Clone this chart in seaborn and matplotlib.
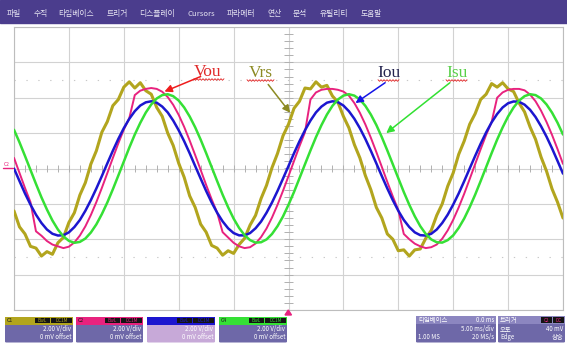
import numpy as np
import pandas as pd
import matplotlib
matplotlib.use("Agg")
import matplotlib.pyplot as plt
import seaborn as sns
from matplotlib.patches import Rectangle, FancyBboxPatch, Polygon
from matplotlib.lines import Line2D

sns.set_style("white")
plt.rcParams["font.family"] = ["Noto Sans CJK KR", "DejaVu Sans"]

# ---- acquisition: 5 ms/div, 2 V/div, trigger at t = 0 ----
t_ms = np.arange(-25.0, 25.01, 0.5)

# C1 : Vrs (source voltage, noisy)
vrs = [-2.40, -3.30, -3.70, -4.40, -4.50, -4.95, -4.70, -4.85, -4.20, -3.90,
       -3.05, -2.50, -1.50, -0.80, 0.25, 1.00, 2.05, 2.65, 3.55, 3.90,
       4.60, 4.90, 4.55, 4.85, 4.40, 4.20, 3.45, 2.95, 2.00, 1.30,
       0.30, -0.50, -1.55, -2.20, -3.15, -3.60, -4.35, -4.50, -4.90, -4.65,
       -4.80, -4.30, -3.95, -3.20, -2.65, -1.70, -0.95, 0.05, 0.85, 1.85,
       2.50, 3.40, 3.80, 4.55, 4.50, 4.90, 4.60, 4.70, 4.10, 3.75,
       2.95, 2.30, 1.35, 0.60, -0.40, -1.20, -2.20, -2.80, -3.70, -4.00,
       -4.65, -4.60, -4.95, -4.60, -4.55, -3.95, -3.50, -2.65, -2.00, -1.00,
       -0.25, 0.80, 1.55, 2.50, 3.10, 3.90, 4.20, 4.80, 4.60, 4.85,
       4.50, 4.35, 3.70, 3.20, 2.35, 1.65, 0.65, -0.15, -1.15, -1.90,
       -2.80]

# C2 : Vou (inverter output voltage)
vou = [0.60, -0.25, -1.10, -1.90, -3.55, -3.80, -4.10, -4.30, -4.40, -4.50,
       -4.42, -4.18, -3.79, -3.27, -2.63, -1.90, -1.10, -0.26, 0.59, 1.42,
       2.20, 2.85, 4.15, 4.40, 4.50, 4.55, 4.50, 4.34, 4.04, 3.60,
       3.03, 2.35, 1.58, 0.76, -0.08, -0.93, -1.74, -2.49, -3.60, -3.90,
       -4.20, -4.40, -4.50, -4.45, -4.24, -3.88, -3.39, -2.77, -2.05, -1.26,
       -0.43, 0.42, 1.26, 2.05, 3.90, 4.30, 4.45, 4.50, 4.50, 4.45,
       4.35, 4.12, 3.70, 3.15, 2.49, 1.74, 0.93, 0.09, -0.76, -1.58,
       -2.35, -3.70, -4.00, -4.25, -4.40, -4.50, -4.45, -4.30, -3.97, -3.50,
       -2.90, -2.20, -1.43, -0.60, 0.25, 1.09, 1.90, 2.63, 4.00, 4.30,
       4.45, 4.50, 4.50, 4.42, 4.18, 3.80, 3.27, 2.63, 1.90, 1.10,
       0.26]

# C3 : Iou (output current)
iou = [0.00, -0.71, -1.41, -2.04, -2.61, -3.08, -3.45, -3.69, -3.79, -3.77,
       -3.61, -3.31, -2.91, -2.39, -1.79, -1.13, -0.43, 0.29, 1.00, 1.67,
       2.28, 2.81, 3.24, 3.56, 3.74, 3.80, 3.72, 3.50, 3.17, 2.71,
       2.16, 1.54, 0.86, 0.14, -0.57, -1.27, -1.92, -2.50, -2.99, -3.38,
       -3.65, -3.78, -3.78, -3.65, -3.38, -3.00, -2.50, -1.92, -1.27, -0.57,
       0.14, 0.86, 1.54, 2.16, 2.71, 3.17, 3.50, 3.72, 3.80, 3.75,
       3.56, 3.24, 2.81, 2.28, 1.67, 1.00, 0.29, -0.43, -1.13, -1.79,
       -2.39, -2.91, -3.31, -3.61, -3.77, -3.79, -3.69, -3.45, -3.08, -2.61,
       -2.04, -1.41, -0.72, 0.00, 0.71, 1.40, 2.04, 2.61, 3.08, 3.45,
       3.69, 3.79, 3.77, 3.61, 3.32, 2.91, 2.39, 1.80, 1.14, 0.43,
       -0.29]

# C4 : Isu (source current)
isu = [2.19, 1.48, 0.71, -0.08, -0.87, -1.63, -2.32, -2.94, -3.45, -3.84,
       -4.09, -4.20, -4.15, -3.96, -3.62, -3.16, -2.58, -1.92, -1.18, -0.40,
       0.39, 1.18, 1.92, 2.58, 3.16, 3.62, 3.96, 4.15, 4.20, 4.09,
       3.84, 3.45, 2.94, 2.33, 1.63, 0.87, 0.08, -0.71, -1.48, -2.19,
       -2.83, -3.36, -3.77, -4.05, -4.19, -4.17, -4.01, -3.70, -3.26, -2.71,
       -2.05, -1.33, -0.55, 0.24, 1.02, 1.77, 2.45, 3.05, 3.54, 3.90,
       4.12, 4.20, 4.12, 3.90, 3.54, 3.05, 2.46, 1.77, 1.02, 0.24,
       -0.55, -1.33, -2.05, -2.70, -3.26, -3.70, -4.01, -4.17, -4.19, -4.05,
       -3.78, -3.36, -2.83, -2.19, -1.48, -0.71, 0.08, 0.87, 1.63, 2.32,
       2.94, 3.45, 3.84, 4.09, 4.20, 4.15, 3.96, 3.62, 3.16, 2.59,
       1.92]

channels = ["C1", "C2", "C3", "C4"]
ch_colors = {"C1": "#b2a51e", "C2": "#e8227e", "C3": "#1c16cf", "C4": "#35e035"}
ch_widths = {"C1": 2.2, "C2": 1.4, "C3": 1.8, "C4": 1.8}

df = pd.DataFrame({
    "t": np.tile(t_ms, 4),
    "v": np.concatenate([vrs, vou, iou, isu]),
    "ch": np.repeat(channels, len(t_ms)),
})

W, H = 567, 346
fig = plt.figure(figsize=(W / 100, H / 100), dpi=100)
fig.patch.set_facecolor("white")


def fx(x):
    return x / W


def fy(y):
    return 1 - y / H


# ---- screen graticule ----
ax = fig.add_axes([fx(14), fy(310), (563 - 14) / W, (310 - 27) / H])
ax.set_facecolor("white")
ax.set_xlim(-25, 25)
ax.set_ylim(-8, 8)
ax.set_xticks(np.arange(-25, 26, 5))
ax.set_yticks(np.arange(-8, 9, 2))
ax.grid(True, color="#d2d2d2", lw=0.8)
ax.tick_params(length=0, labelbottom=False, labelleft=False)
for s in ax.spines.values():
    s.set_color("#bdbdbd")
    s.set_linewidth(0.8)

# dotted reference levels
for lv in (5.0, -5.0):
    ax.axhline(lv, color="#c8c8c8", lw=0.8, ls=(0, (1.2, 9.5)), zorder=1)

# minor ticks on the centre cross
ax.vlines(np.arange(-25, 25.1, 1.0), -0.18, 0.18, color="#b0b0b0", lw=0.7, zorder=1)
ax.hlines(np.arange(-8, 8.1, 0.4), -0.45, 0.45, color="#b0b0b0", lw=0.7, zorder=1)

# ---- waveforms ----
for ch in channels:
    sns.lineplot(data=df[df["ch"] == ch], x="t", y="v", color=ch_colors[ch],
                 lw=ch_widths[ch], estimator=None, sort=False, legend=False,
                 ax=ax, zorder=3)
ax.set_xlabel("")
ax.set_ylabel("")

# ---- trace annotations ----
serif = ["Liberation Serif", "DejaVu Serif"]
notes = [
    # label, text colour, arrow colour, text pos, arrow tail, arrow head
    ("Vou", "#e02828", "#ee1c1c", (-7.35, 5.45), (-8.0, 5.2), (-11.3, 4.35)),
    ("Vrs", "#8c8a22", "#8c8a22", (-2.55, 5.40), (-1.85, 4.75), (0.15, 3.15)),
    ("Iou", "#23234f", "#1414e6", (9.10, 5.40), (8.80, 4.85), (6.10, 3.70)),
    ("Isu", "#58d048", "#32e032", (15.35, 5.40), (14.70, 4.85), (8.90, 2.00)),
]
for lab, tcol, acol, tp, tail, head in notes:
    ax.text(tp[0], tp[1], lab, color=tcol, fontsize=12.5, family=serif,
            ha="center", va="center", zorder=5)
    ax.annotate("", xy=head, xytext=tail,
                arrowprops=dict(arrowstyle="-|>", color=acol, lw=1.1,
                                mutation_scale=11, shrinkA=0, shrinkB=0),
                zorder=5)

# spell-check squiggles under the labels
for x0, x1, yy in [(194, 224, 79.5), (247, 274, 80.5), (378, 400, 80.5), (446, 467, 80.5)]:
    xs = np.arange(x0, x1 + 0.1, 1.5)
    ys = yy + np.where(np.arange(len(xs)) % 2 == 0, -0.8, 0.8)
    fig.add_artist(Line2D(fx(xs), fy(ys), color="#e02020", lw=0.6,
                          transform=fig.transFigure))

# ---- menu bar ----
fig.add_artist(Rectangle((0, fy(23)), 1, 23 / H, color="#4b3d8d",
                         transform=fig.transFigure, zorder=0))
menu = [("파일", 7), ("수직", 34), ("타임베이스", 58), ("트리거", 107),
        ("디스플레이", 139), ("Cursors", 188), ("파라메터", 227), ("연산", 268),
        ("분석", 293), ("유틸리티", 320), ("도움말", 361)]
for txt, x in menu:
    fig.text(fx(x), fy(14.3), txt, color="#e6e4f2", fontsize=5.6,
             ha="left", va="center")

# ground marker of the reference channel and trigger position
fig.text(fx(4), fy(165), "C2", color="#e8227e", fontsize=3.6, ha="left", va="center")
fig.add_artist(Line2D([fx(3), fx(13)], [fy(168.5), fy(168.5)], color="#e8227e",
                      lw=1.0, transform=fig.transFigure))
fig.add_artist(Polygon([[fx(285), fy(315)], [fx(291.5), fy(315)], [fx(288.3), fy(310)]],
                       closed=True, color="#e8227e", transform=fig.transFigure))

# ---- channel descriptor boxes ----
box_lower = "#6e68a8"
box_sel = "#c7a9d8"


def rbox(x0, y0, x1, y1, col, r=1.5):
    fig.add_artist(FancyBboxPatch((fx(x0), fy(y1)), fx(x1 - x0), (y1 - y0) / H,
                                  boxstyle=f"round,pad=0,rounding_size={r / W}",
                                  facecolor=col, edgecolor="none",
                                  transform=fig.transFigure))


def badge(x0, x1, yc, txt, col):
    fig.add_artist(Rectangle((fx(x0), fy(yc + 2.6)), fx(x1 - x0), 5.2 / H,
                             facecolor="#141414", edgecolor="none",
                             transform=fig.transFigure))
    fig.text(fx((x0 + x1) / 2), fy(yc), txt, color=col, fontsize=3.3,
             ha="center", va="center")


ch_boxes = [("C1", 5, 73, box_lower), ("C2", 76, 143, box_lower),
            ("C3", 147, 215, box_sel), ("C4", 219, 287, box_lower)]
for ch, x0, x1, low in ch_boxes:
    rbox(x0, 317, x1, 342.5, low)
    fig.add_artist(Rectangle((fx(x0), fy(324.5)), fx(x1 - x0), 7.5 / H,
                             facecolor=ch_colors[ch], edgecolor="none",
                             transform=fig.transFigure))
    if ch != "C3":
        fig.text(fx(x0 + 2), fy(320.6), ch, color="#1e1e1e", fontsize=3.8,
                 ha="left", va="center")
        badge(x1 - 38, x1 - 23, 320.6, "BwL", ch_colors[ch])
        badge(x1 - 22, x1 - 1, 320.6, "DC1M", ch_colors[ch])
    else:
        badge(x1 - 38, x1 - 23, 320.6, "BwL", "#1c16cf")
        badge(x1 - 22, x1 - 1, 320.6, "DC1M", "#1c16cf")
    fig.text(fx(x1 - 2), fy(329.3), "2.00 V/div", color="white", fontsize=4.4,
             ha="right", va="center")
    fig.text(fx(x1 - 2), fy(337.3), "0 mV offset", color="white", fontsize=4.4,
             ha="right", va="center")

# timebase box
rbox(416, 316, 496, 342.5, box_lower)
fig.add_artist(Rectangle((fx(416), fy(324)), fx(80), 8 / H, facecolor="#8c86c0",
                         edgecolor="none", transform=fig.transFigure))
fig.text(fx(418), fy(320), "타임베이스", color="white", fontsize=4.6, ha="left", va="center")
fig.text(fx(494), fy(320), "0.0 ms", color="white", fontsize=4.4, ha="right", va="center")
fig.text(fx(494), fy(328.8), "5.00 ms/div", color="white", fontsize=4.4, ha="right", va="center")
fig.text(fx(418), fy(337), "1.00 MS", color="white", fontsize=4.4, ha="left", va="center")
fig.text(fx(494), fy(337), "20 MS/s", color="white", fontsize=4.4, ha="right", va="center")

# trigger box
rbox(498, 316, 565, 342.5, box_lower)
fig.add_artist(Rectangle((fx(498), fy(324)), fx(67), 8 / H, facecolor="#8c86c0",
                         edgecolor="none", transform=fig.transFigure))
fig.text(fx(500), fy(320), "트리거", color="white", fontsize=4.6, ha="left", va="center")
badge(541, 552, 320, "C2", "#e8227e")
badge(553, 564, 320, "DC", "#e8227e")
fig.text(fx(500), fy(328.8), "오토", color="white", fontsize=4.6, ha="left", va="center")
fig.text(fx(563), fy(328.8), "40 mV", color="white", fontsize=4.4, ha="right", va="center")
fig.text(fx(500), fy(337), "Edge", color="white", fontsize=4.4, ha="left", va="center")
fig.text(fx(563), fy(337), "상승", color="white", fontsize=4.6, ha="right", va="center")

fig.savefig("out.png", dpi=100, facecolor=fig.get_facecolor())
